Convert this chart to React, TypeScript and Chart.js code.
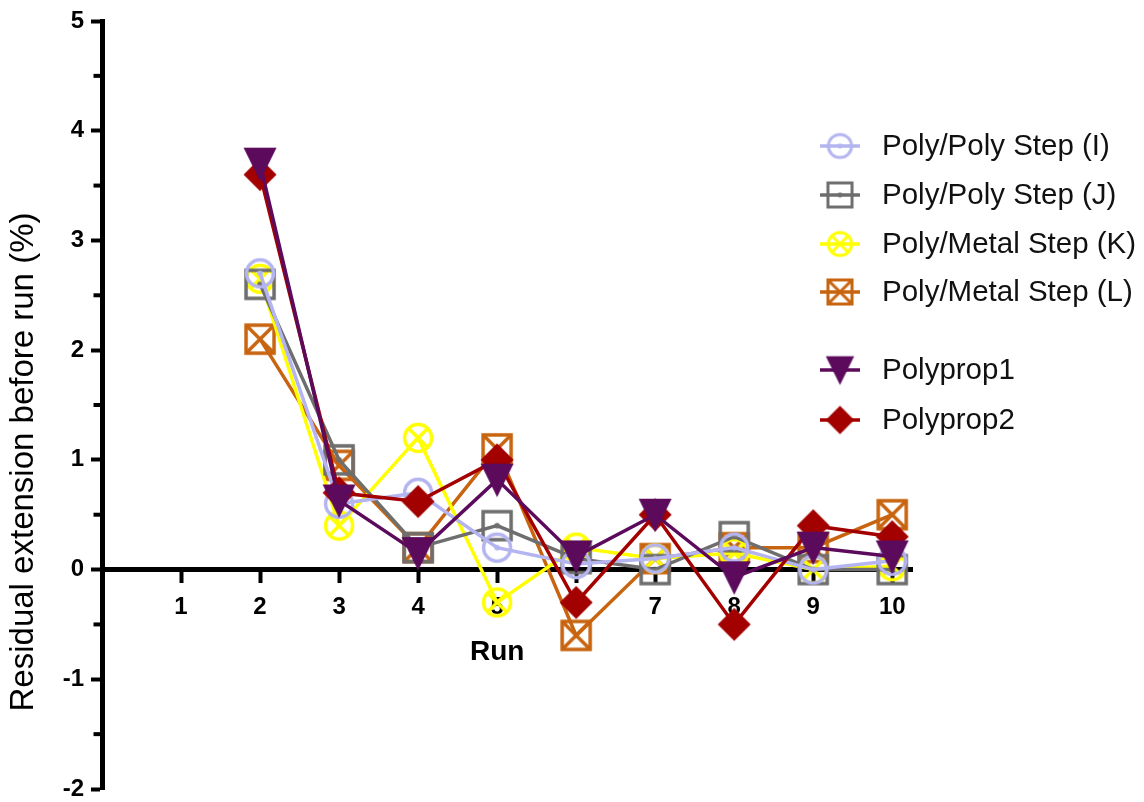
import React, { useEffect, useRef } from 'react';
import { Chart, registerables } from 'chart.js';

Chart.register(...registerables);

// ---- data ----
const runs = [1, 2, 3, 4, 5, 6, 7, 8, 9, 10];
const xTickValues = [1, 2, 3, 4, 5, 6, 7, 8, 9, 10];
const yTickValues = [-2, -1, 0, 1, 2, 3, 4, 5];
const yMinorTickValues = [-1.5, -0.5, 0.5, 1.5, 2.5, 3.5, 4.5];

const seriesNames = [
  'Poly/Poly Step (I)',
  'Poly/Poly Step (J)',
  'Poly/Metal Step (K)',
  'Poly/Metal Step (L)',
  'Polyprop1',
  'Polyprop2',
];

const polyPolyI = [null, 2.7, 0.6, 0.7, 0.2, 0.05, 0.1, 0.2, 0.0, 0.08];
const polyPolyJ = [null, 2.6, 1.0, 0.2, 0.4, 0.1, 0.0, 0.3, 0.0, 0.0];
const polyMetalK = [null, 2.65, 0.4, 1.2, -0.3, 0.2, 0.1, 0.15, 0.0, 0.03];
const polyMetalL = [null, 2.1, 0.95, 0.2, 1.1, -0.6, 0.1, 0.2, 0.2, 0.5];
const polyprop1 = [null, 3.7, 0.63, 0.15, 0.82, 0.12, 0.5, -0.07, 0.2, 0.12];
const polyprop2 = [null, 3.6, 0.7, 0.62, 1.0, -0.3, 0.5, -0.5, 0.4, 0.3];

const seriesColors = ['#b4b4f0', '#6e6e6e', '#ffff00', '#c8640f', '#5c0a5c', '#a30000'];
const seriesMarkers = ['circleDot', 'squareDot', 'circleX', 'squareX', 'triDown', 'diamond'];

const FONT = "'Liberation Sans', Arial, sans-serif";

function makeMarker(kind: string, color: string, s: number): HTMLCanvasElement {
  const c = document.createElement('canvas');
  const size = Math.ceil(40 * s);
  c.width = size;
  c.height = size;
  const g = c.getContext('2d') as CanvasRenderingContext2D;
  g.translate(size / 2, size / 2);
  g.scale(s, s);
  g.strokeStyle = color;
  g.fillStyle = color;
  g.lineWidth = 3.5;
  const r = 13.5;
  const h = 14;
  const dot = () => {
    g.beginPath();
    g.arc(0, 0, 2.8, 0, Math.PI * 2);
    g.fill();
  };
  switch (kind) {
    case 'circleDot':
      g.beginPath();
      g.arc(0, 0, r, 0, Math.PI * 2);
      g.stroke();
      dot();
      break;
    case 'circleX': {
      g.beginPath();
      g.arc(0, 0, r, 0, Math.PI * 2);
      g.stroke();
      const d = r * Math.SQRT1_2;
      g.beginPath();
      g.moveTo(-d, -d);
      g.lineTo(d, d);
      g.moveTo(d, -d);
      g.lineTo(-d, d);
      g.stroke();
      break;
    }
    case 'squareDot':
      g.strokeRect(-h, -h, 2 * h, 2 * h);
      dot();
      break;
    case 'squareX':
      g.strokeRect(-h, -h, 2 * h, 2 * h);
      g.beginPath();
      g.moveTo(-h, -h);
      g.lineTo(h, h);
      g.moveTo(h, -h);
      g.lineTo(-h, h);
      g.stroke();
      break;
    case 'triDown':
      g.beginPath();
      g.moveTo(-16.5, -16);
      g.lineTo(16.5, -16);
      g.lineTo(0, 17.5);
      g.closePath();
      g.fill();
      break;
    case 'diamond':
      g.beginPath();
      g.moveTo(0, -16.5);
      g.lineTo(16.5, 0);
      g.lineTo(0, 16.5);
      g.lineTo(-16.5, 0);
      g.closePath();
      g.fill();
      break;
  }
  return c;
}

function toPoints(values: (number | null)[]) {
  const pts: { x: number; y: number }[] = [];
  values.forEach((v, i) => {
    if (v !== null) pts.push({ x: runs[i], y: v });
  });
  return pts;
}

export default function App() {
  const canvasRef = useRef<HTMLCanvasElement | null>(null);

  useEffect(() => {
    const canvas = canvasRef.current;
    if (!canvas) return;
    const allSeries = [polyPolyI, polyPolyJ, polyMetalK, polyMetalL, polyprop1, polyprop2];
    const drawOrder = [2, 3, 4, 5, 0, 1];
    const plotMarkers = seriesMarkers.map((m, i) => makeMarker(m, seriesColors[i], 1));
    const legendMarkers = seriesMarkers.map((m, i) => makeMarker(m, seriesColors[i], 0.86));

    const decorPlugin = {
      id: 'decor',
      afterDraw(chart: any) {
        const ctx = chart.ctx as CanvasRenderingContext2D;
        const xs = chart.scales.x;
        const ys = chart.scales.y;
        const left = chart.chartArea.left;
        ctx.save();
        // minor y ticks
        ctx.strokeStyle = '#000';
        ctx.lineWidth = 4;
        yMinorTickValues.forEach((v) => {
          const py = ys.getPixelForValue(v);
          ctx.beginPath();
          ctx.moveTo(left - 2, py);
          ctx.lineTo(left - 8.5, py);
          ctx.stroke();
        });
        // y title
        ctx.fillStyle = '#000';
        ctx.font = `33px ${FONT}`;
        ctx.textAlign = 'center';
        ctx.textBaseline = 'middle';
        ctx.translate(24, 462);
        ctx.rotate(-Math.PI / 2);
        ctx.fillText('Residual extension before run (%)', 0, 0);
        ctx.restore();

        // x title
        ctx.save();
        ctx.fillStyle = '#000';
        ctx.font = `bold 28px ${FONT}`;
        ctx.textAlign = 'center';
        ctx.textBaseline = 'middle';
        ctx.fillText('Run', xs.getPixelForValue(5), ys.getPixelForValue(0) + 83);
        ctx.restore();

        // legend
        const rows = [146, 195, 244, 292, 370, 420];
        const cx = 840;
        ctx.save();
        seriesNames.forEach((name, i) => {
          const y = rows[i];
          ctx.strokeStyle = seriesColors[i];
          ctx.lineWidth = 3.5;
          ctx.beginPath();
          ctx.moveTo(cx - 20, y);
          ctx.lineTo(cx + 20, y);
          ctx.stroke();
          const m = legendMarkers[i];
          ctx.drawImage(m, cx - m.width / 2, y - m.height / 2);
          ctx.fillStyle = '#111';
          ctx.font = `29.5px ${FONT}`;
          ctx.textAlign = 'left';
          ctx.textBaseline = 'middle';
          ctx.fillText(name, 882, y + 1);
        });
        ctx.restore();
      },
    };

    const chart = new Chart(canvas, {
      type: 'line',
      data: {
        datasets: allSeries.map((vals, i) => ({
          label: seriesNames[i],
          data: toPoints(vals),
          borderColor: seriesColors[i],
          backgroundColor: seriesColors[i],
          borderWidth: 3.5,
          pointBorderWidth: 0,
          pointStyle: plotMarkers[i] as any,
          pointRadius: 15,
          pointHoverRadius: 15,
          fill: false,
          tension: 0,
          clip: false as any,
          order: drawOrder[i],
        })),
      },
      options: {
        responsive: false,
        animation: false,
        events: [],
        layout: { autoPadding: false, padding: { left: 0, top: 21, right: 232, bottom: 13 } },
        plugins: {
          legend: { display: false },
          tooltip: { enabled: false },
          title: { display: false },
        },
        scales: {
          x: {
            type: 'linear',
            min: 0,
            max: 10.25,
            position: { y: 0 } as any,
            afterBuildTicks: (s: any) => {
              s.ticks = xTickValues.map((v) => ({ value: v }));
            },
            afterFit: (s: any) => {
              s.paddingLeft = 0;
              s.paddingRight = 0;
              s.paddingTop = 0;
              s.paddingBottom = 0;
            },
            ticks: {
              color: '#000',
              font: { family: FONT, size: 24, weight: 'bold' },
              padding: 12,
              autoSkip: false,
              maxRotation: 0,
              callback: (v: any) => String(v),
            },
            grid: {
              drawOnChartArea: false,
              drawTicks: true,
              tickLength: 11,
              tickWidth: 4,
              tickColor: '#000',
            },
            border: { color: '#000', width: 5 },
          },
          y: {
            type: 'linear',
            min: -2,
            max: 5,
            afterBuildTicks: (s: any) => {
              s.ticks = yTickValues.map((v) => ({ value: v }));
            },
            afterFit: (s: any) => {
              s.width = 102;
              s.paddingTop = 0;
              s.paddingBottom = 0;
              s.paddingLeft = 0;
              s.paddingRight = 0;
            },
            ticks: {
              color: '#000',
              font: { family: FONT, size: 24, weight: 'bold' },
              padding: 7,
              callback: (v: any) => String(v),
            },
            grid: {
              drawOnChartArea: false,
              drawTicks: true,
              tickLength: 11,
              tickWidth: 4,
              tickColor: '#000',
            },
            border: { color: '#000', width: 5 },
          },
        },
      } as any,
      plugins: [decorPlugin],
    });
    return () => chart.destroy();
  }, []);

  return (
    <div style={{ position: 'fixed', left: 0, top: 0, width: 1144, height: 802, background: '#fff' }}>
      <canvas ref={canvasRef} width={1144} height={802} style={{ width: 1144, height: 802, display: 'block' }} />
    </div>
  );
}
